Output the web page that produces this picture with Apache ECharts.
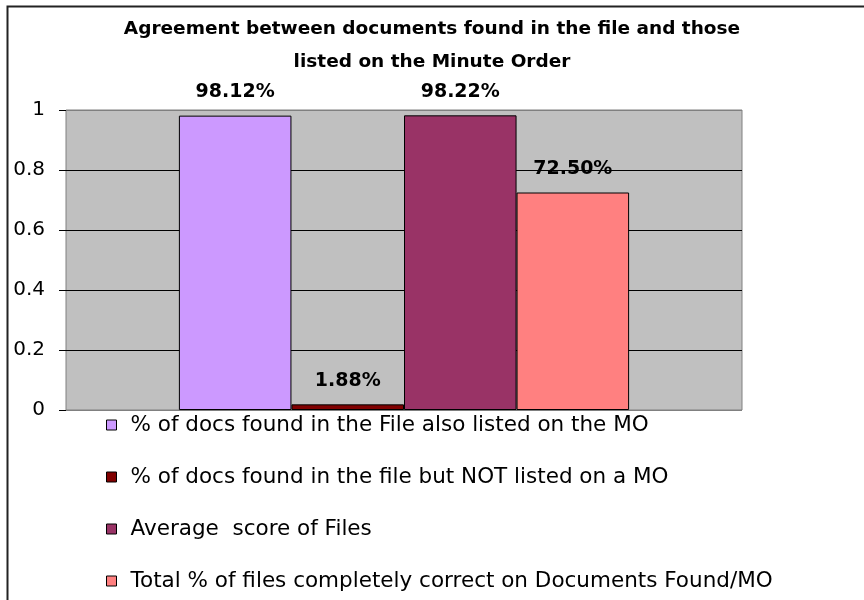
<!DOCTYPE html>
<html>
<head>
<meta charset="utf-8">
<script src="https://cdn.jsdelivr.net/npm/echarts@6/dist/echarts.min.js"></script>
<style>
  html, body { margin: 0; padding: 0; background: #fff; }
  #chart { width: 864px; height: 600px; }
</style>
</head>
<body>
<div id="chart"></div>
<script>
  const titleText = 'Agreement between documents found in the file and those\nlisted on the Minute Order';
  const categories = ['Files'];
  const seriesNames = [
    '% of docs found in the File also listed on the MO',
    '% of docs found in the file but NOT listed on a MO',
    'Average  score of Files',
    'Total % of files completely correct on Documents Found/MO',
  ];
  const seriesValues = [0.9812, 0.0188, 0.9822, 0.725];
  const seriesColors = ['#CC99FF', '#800000', '#993366', '#FF8080'];
  const yTicks = [0, 0.2, 0.4, 0.6, 0.8, 1];

  const chart = echarts.init(document.getElementById('chart'));

  const option = {
    animation: false,
    title: {
      text: titleText,
      left: 'center',
      top: 8,
      textStyle: {
        fontFamily: 'DejaVu Sans',
        fontWeight: 'bold',
        fontSize: 18.5,
        lineHeight: 33,
        color: '#000',
      },
    },
    grid: {
      left: 66,
      right: 122,
      top: 110,
      bottom: 190,
      show: true,
      backgroundColor: '#C0C0C0',
      borderColor: '#808080',
      borderWidth: 1,
    },
    legend: {
      orient: 'vertical',
      left: 94,
      top: 411,
      padding: [3, 12, 0, 12],
      backgroundColor: '#fff',
      itemWidth: 10,
      itemHeight: 10,
      itemGap: 30,
      icon: 'rect',
      itemStyle: { borderColor: '#000', borderWidth: 1 },
      textStyle: {
        fontFamily: 'DejaVu Sans',
        fontSize: 21.5,
        lineHeight: 22,
        padding: [0, 0, 0, 9],
        color: '#000',
      },
      data: seriesNames,
    },
    xAxis: {
      type: 'category',
      data: categories,
      axisLine: { show: false },
      axisTick: { show: false },
      axisLabel: { show: false },
    },
    yAxis: {
      type: 'value',
      min: yTicks[0],
      max: yTicks[yTicks.length - 1],
      interval: 0.2,
      axisLine: { show: false },
      axisTick: { show: true, length: 7, lineStyle: { color: '#000' } },
      axisLabel: {
        fontFamily: 'DejaVu Sans',
        fontSize: 20,
        color: '#000',
        margin: 21,
        formatter: (v) => String(Math.round(v * 10) / 10),
      },
      splitLine: {
        show: true,
        lineStyle: { color: ['#808080', '#000', '#000', '#000', '#000', '#808080'], width: 1 },
      },
    },
    series: seriesNames.map((name, i) => ({
      name,
      type: 'bar',
      data: [seriesValues[i]],
      barGap: 0,
      barCategoryGap: '33.4%',
      itemStyle: { color: seriesColors[i], borderColor: '#000', borderWidth: 1 },
      label: {
        show: true,
        position: 'top',
        distance: 14,
        fontFamily: 'DejaVu Sans',
        fontWeight: 'bold',
        fontSize: 19,
        color: '#000',
        formatter: (p) => (p.value * 100).toFixed(2) + '%',
      },
    })),
    graphic: [
      {
        type: 'polyline',
        shape: { points: [[7.5, 600], [7.5, 6.5], [864, 6.5]] },
        style: { stroke: '#222', lineWidth: 2, fill: null },
        silent: true,
      },
    ],
  };

  chart.setOption(option);
  window.addEventListener('resize', () => chart.resize());
</script>
</body>
</html>
